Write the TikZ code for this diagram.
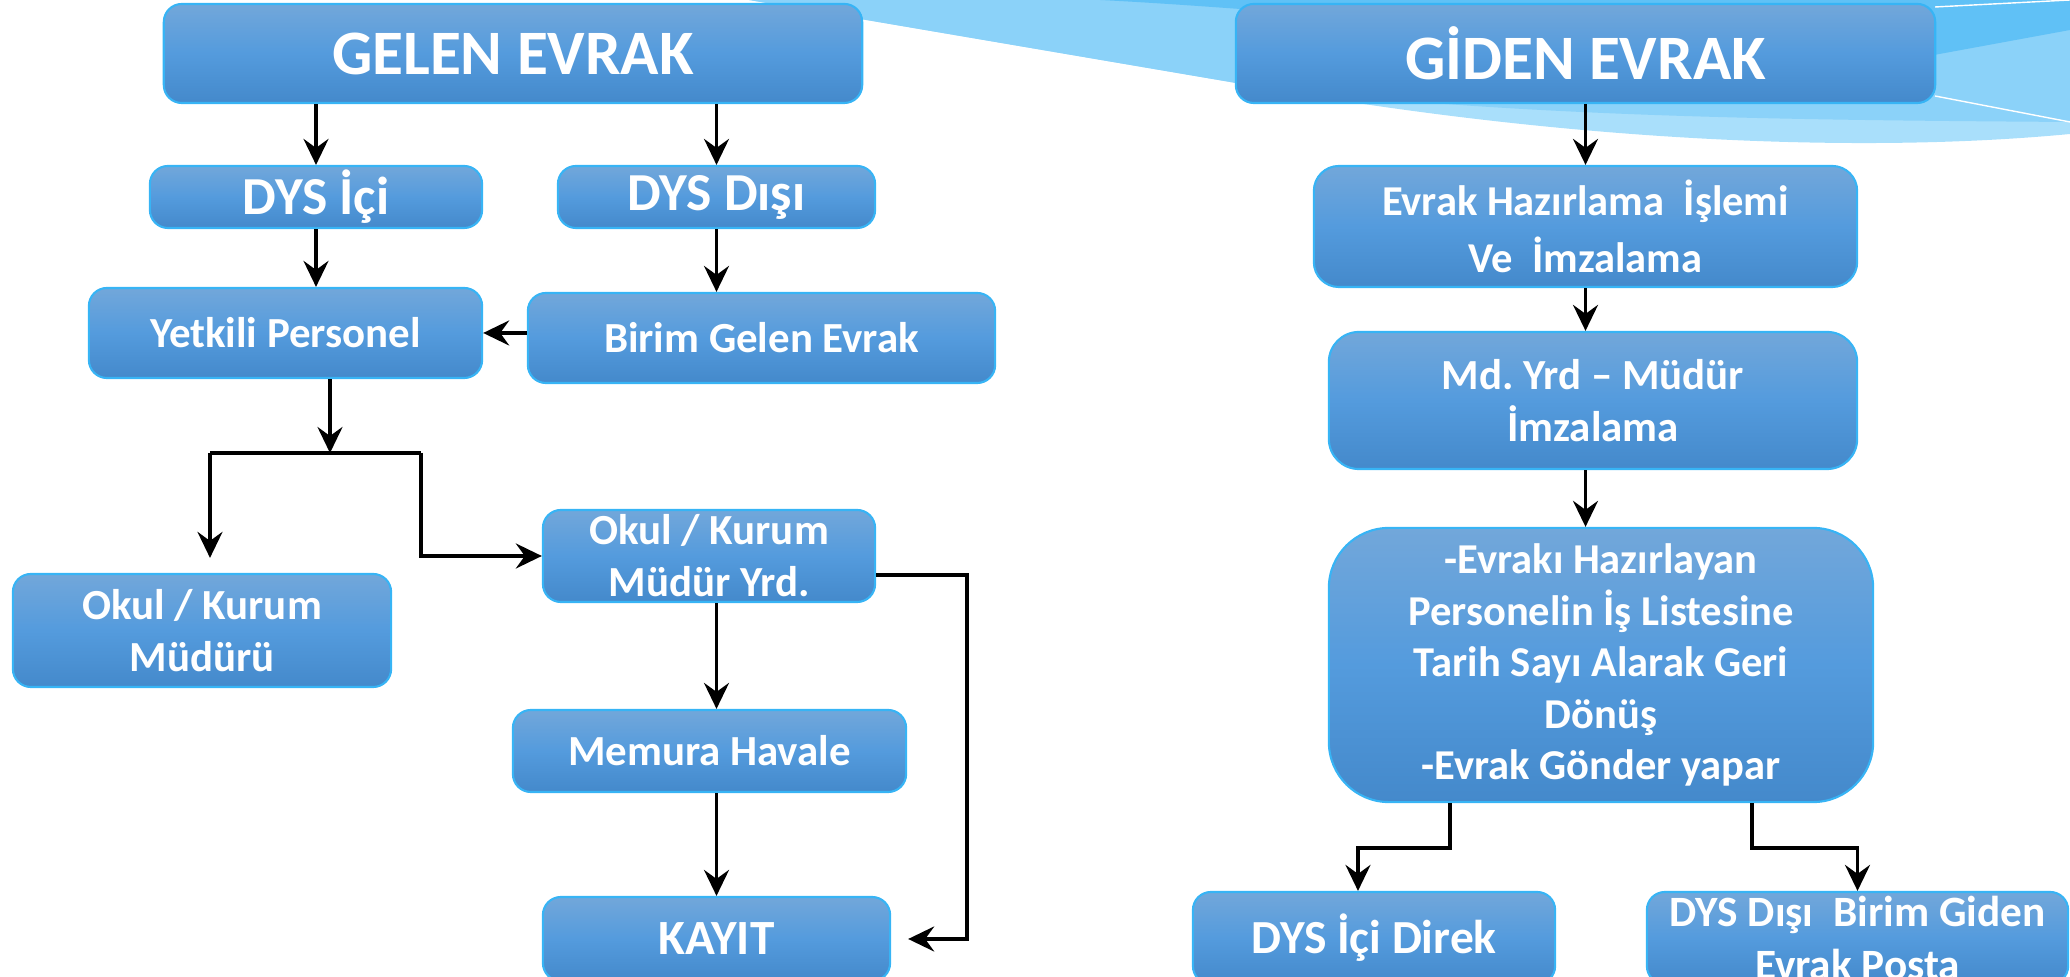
\documentclass[tikz,border=0pt]{standalone}
\usepackage{fontspec}
\usepackage{xcolor}
\usepackage{tikz}
\usetikzlibrary{arrows.meta,calc}
\newfontfamily\boxfont{Carlito}
\definecolor{boxtop}{RGB}{114,167,218}
\definecolor{boxmid}{RGB}{84,155,221}
\definecolor{boxbot}{RGB}{68,137,203}
\definecolor{boxline}{RGB}{55,180,245}
\definecolor{wavedark}{RGB}{96,193,246}
\definecolor{wavemid}{RGB}{139,210,249}
\definecolor{wavelight}{RGB}{169,223,251}

\begin{document}
\begin{tikzpicture}[x=0.01cm, y=-0.01cm,
    box/.style={draw=boxline, line width=0.6pt, rounded corners=0.18cm,
        top color=boxtop, bottom color=boxbot, middle color=boxmid,
        text=white, align=center, inner sep=0pt,
        font={\boxfont\bfseries\fontsize{12.2pt}{14.8pt}\selectfont}},
    title/.style={font={\boxfont\bfseries\fontsize{18pt}{22pt}\selectfont}},
    arr/.style={line width=1pt, -{Stealth[length=0.26cm, width=0.25cm, inset=0.09cm]}}]
    \useasboundingbox (0,0) rectangle (2070,977);

    % Background wave
    \fill[wavelight] (749,0) -- (1236,83) .. controls (1550,140) and (1850,155) .. (2070,134) -- (2070,0) -- cycle;
    \fill[wavemid] (749,0) -- (1236,83) .. controls (1500,118) and (1800,120) .. (2070,122) -- (2070,0) -- cycle;
    \fill[wavedark] (1100,0) .. controls (1300,10) and (1700,50) .. (1934,55) -- (2070,30) -- (2070,0) -- cycle;
    \draw[white, line width=0.4pt] (1935,7) -- (2070,0);
    \draw[white, line width=0.4pt] (1935,96) -- (2070,122);

    % Gelen evrak
    \node[box, title, minimum width=6.98cm, minimum height=0.99cm] (gelen) at (513,53.5) {GELEN EVRAK};
    \node[box, font={\boxfont\bfseries\fontsize{15.2pt}{18pt}\selectfont}, minimum width=3.32cm, minimum height=0.62cm] (dysici) at (316,197) {DYS İçi};
    \node[box, font={\boxfont\bfseries\fontsize{15.2pt}{18pt}\selectfont}, minimum width=3.17cm, minimum height=0.62cm] (dysdisi) at (716.5,197) {DYS Dışı};
    \node[box, minimum width=3.93cm, minimum height=0.9cm] (yetkili) at (285.5,333) {Yetkili Personel};
    \node[box, minimum width=4.67cm, minimum height=0.9cm] (birim) at (761.5,338) {Birim Gelen Evrak};
    \node[box, minimum width=3.78cm, minimum height=1.13cm] (mudur) at (202,630.5) {Okul / Kurum\\Müdürü};
    \node[box, minimum width=3.32cm, minimum height=0.92cm] (yrd) at (709,556) {Okul / Kurum\\Müdür Yrd.};
    \node[box, minimum width=3.93cm, minimum height=0.82cm] (memura) at (709.5,751) {Memura Havale};
    \node[box, font={\boxfont\bfseries\fontsize{14pt}{17pt}\selectfont}, minimum width=3.47cm, minimum height=0.84cm] (kayit) at (716.5,939) {KAYIT};

    \draw[arr] (dysici.north |- gelen.south) -- (dysici.north);
    \draw[arr] (dysdisi.north |- gelen.south) -- (dysdisi.north);
    \draw[arr] (dysici.south) -- (dysici.south |- yetkili.north);
    \draw[arr] (dysdisi.south) -- (dysdisi.south |- birim.north);
    \draw[arr] (birim.west |- yetkili.east) -- (yetkili.east);
    \coordinate (split) at (330,453);
    \coordinate (splitL) at (210,453);
    \coordinate (splitR) at (421,453);
    \draw[arr] (split |- yetkili.south) -- (split);
    \draw[line width=1pt] (splitL) -- (splitR);
    \draw[arr, shorten >=0.15cm] (splitL) -- (splitL |- mudur.north);
    \draw[arr] (splitR) |- (yrd.west);
    \draw[arr] (yrd.south -| kayit.north) -- (memura.north -| kayit.north);
    \draw[arr] (memura.south -| kayit.north) -- (kayit.north);
    \draw[arr, shorten >=0.17cm] ([yshift=-0.19cm]yrd.east) -- ++(91,0) |- (kayit.east);

    % Giden evrak
    \node[box, title, minimum width=6.99cm, minimum height=0.99cm] (giden) at (1585.5,53.5) {GİDEN EVRAK};
    \node[box, rounded corners=0.25cm, font={\boxfont\bfseries\fontsize{12.1pt}{16pt}\selectfont}, minimum width=5.43cm, minimum height=1.21cm] (evrak) at (1585.5,226.5) {Evrak Hazırlama~ İşlemi\\Ve~ İmzalama};
    \node[box, rounded corners=0.3cm, minimum width=5.28cm, minimum height=1.37cm] (md) at (1593,400.5) {Md.\ Yrd – Müdür\\İmzalama};
    \node[box, rounded corners=0.6cm, font={\boxfont\bfseries\fontsize{12.1pt}{14.65pt}\selectfont}, minimum width=5.44cm, minimum height=2.74cm] (big) at (1601,665) {-Evrakı Hazırlayan\\Personelin İş Listesine\\Tarih Sayı Alarak Geri\\Dönüş\\-Evrak Gönder yapar};
    \node[box, font={\boxfont\bfseries\fontsize{13.5pt}{16pt}\selectfont}, minimum width=3.62cm, minimum height=0.92cm] (direk) at (1374,938) {DYS İçi Direk};
    \node[box, font={\boxfont\bfseries\fontsize{12.3pt}{14.8pt}\selectfont}, minimum width=4.21cm, minimum height=0.92cm] (posta) at (1857.5,938) {DYS Dışı~ Birim Giden\\Evrak Posta};

    \draw[arr] (giden.south) -- (evrak.north);
    \draw[arr] (evrak.south) -- (evrak.south |- md.north);
    \draw[arr] (md.south -| giden.south) -- (big.north -| giden.south);
    \draw[arr] ([xshift=-1.51cm]big.south) -- ++(0,45) -| ([xshift=-0.16cm]direk.north);
    \draw[arr] ([xshift=1.51cm]big.south) -- ++(0,45) -| (posta.north);
\end{tikzpicture}
\end{document}
